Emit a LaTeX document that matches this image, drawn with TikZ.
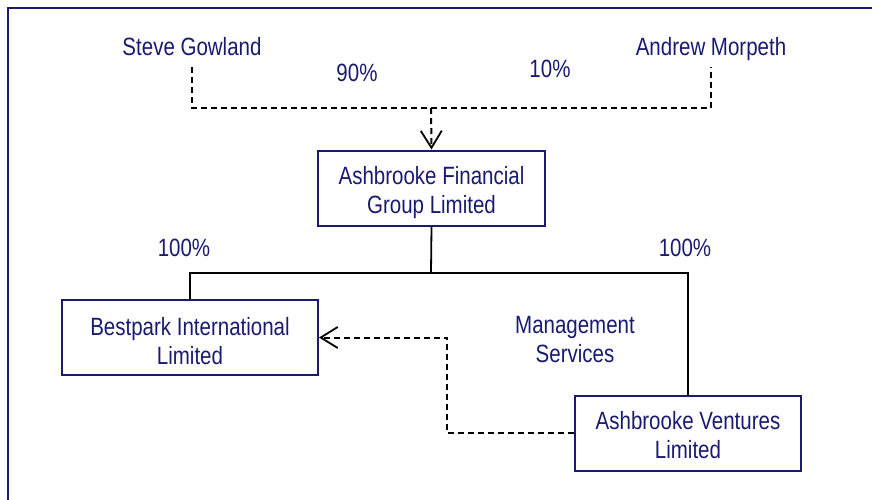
\documentclass[tikz,border=0pt]{standalone}
\usepackage{fontspec}
\setmainfont{Liberation Sans}[FakeStretch=0.82]
\usetikzlibrary{arrows.meta,calc,positioning}
\definecolor{grpnavy}{RGB}{26,26,112}

\begin{document}
\begin{tikzpicture}[x=1pt,y=-1pt,font=\fontsize{25}{29}\selectfont,
    >={Straight Barb[length=17pt,width=21pt,line width=1.8pt]},
    txt/.style={text=grpnavy,inner sep=0pt,align=center},
    person/.style={txt,text height=18pt,text depth=5pt,inner ysep=7pt},
    entity/.style={draw=grpnavy,line width=2pt,minimum height=75pt,inner sep=0pt},
    own/.style={line width=1.8pt},
    dashown/.style={own,line width=2pt,dash pattern=on 6pt off 4pt}]
    \useasboundingbox (0,0) rectangle (872,499);
    \draw[grpnavy,line width=2.2pt] (8,506) -- (8,8) -- (880,8);
    % shareholders
    \node[person] (steve) at (192,48.5) {Steve Gowland};
    \node[person] (andrew) at (711,48.5) {Andrew Morpeth};
    \node[txt] (pctsteve) at (357,73) {90\%};
    \node[txt] (pctandrew) at (550,69) {10\%};
    % companies
    \node[entity,minimum width=227pt,
      label={[txt,yshift=-4.5pt]center:{Ashbrooke Financial\\Group Limited}}] (afg) at (431.5,188) {};
    \node[entity,minimum width=256pt,
      label={[txt,yshift=-3.5pt]center:{Bestpark International\\Limited}}] (bestpark) at (190,337.5) {};
    \node[entity,minimum width=226pt,
      label={[txt,yshift=-2pt]center:{Ashbrooke Ventures\\Limited}}] (ventures) at (688,433) {};
    \node[txt] (pctbest) at (184,248) {100\%};
    \node[txt] (pctvent) at (685,248) {100\%};
    \node[txt] (mgmt) at (575,340) {Management\\Services};
    \coordinate (join) at (431,108);
    \coordinate (bus) at (431,273);
    \coordinate (turn) at (447,338);
    % ownership lines
    \draw[dashown] (steve.south) |- (join) -| (andrew.south);
    \draw[dashown,->] (join) -- (afg.north);
    \draw[own] (afg.south) -- (bus);
    \draw[own] (bestpark.north) |- (bus) -| (ventures.north);
    \draw[dashown,->] (ventures.west) -| (turn) |- (bestpark.east);
\end{tikzpicture}
\end{document}
